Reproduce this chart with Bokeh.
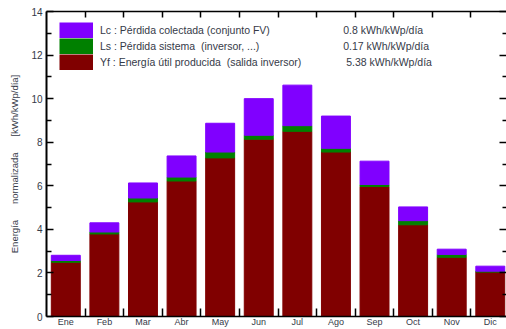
from bokeh.plotting import figure
from bokeh.models import (LinearAxis, FixedTicker, Legend, LegendItem, Label,
                          Range1d, ColumnDataSource, CustomLabelingPolicy)
from bokeh.embed import file_html
from bokeh.resources import INLINE

months = ["Ene", "Feb", "Mar", "Abr", "May", "Jun", "Jul", "Ago", "Sep", "Oct", "Nov", "Dic"]
yf = [2.49, 3.79, 5.26, 6.22, 7.28, 8.14, 8.50, 7.55, 5.97, 4.21, 2.72, 2.04]
ls = [0.08, 0.09, 0.18, 0.18, 0.27, 0.18, 0.26, 0.17, 0.09, 0.19, 0.13, 0.04]
lc = [0.24, 0.42, 0.69, 0.97, 1.32, 1.68, 1.86, 1.48, 1.07, 0.63, 0.24, 0.23]
NB = "\u00a0"
legend_labels = ["Lc : Pérdida colectada (conjunto FV)",
                 "Ls : Pérdida sistema" + NB * 2 + "(inversor, ...)",
                 "Yf : Energía útil producida" + NB * 2 + "(salida inversor)"]
legend_values = ["0.8 kWh/kWp/día", "0.17 kWh/kWp/día", NB + "5.38 kWh/kWp/día"]
colors = ["#8000ff", "#008000", "#800000"]  # Lc, Ls, Yf
y_ticks = [0, 2, 4, 6, 8, 10, 12, 14]
y_minor = [1, 3, 5, 7, 9, 11, 13]

FONT = "Liberation Sans"
TXT = "#353a48"

no_labels = CustomLabelingPolicy(code="""
try { const n = indices.size; for (let i = 0; i < n; i++) { indices.unset(i); } } catch (e) {}
return indices;
""")

p = figure(width=500, height=329, x_range=Range1d(0.5, 12.42), y_range=Range1d(0, 14),
           output_backend="svg", toolbar_location=None, margin=(0, 0, 0, 6),
           min_border_left=0, min_border_right=0, min_border_top=11, min_border_bottom=0)
p.xgrid.visible = False
p.ygrid.visible = False
p.outline_line_color = None

x = list(range(1, len(months) + 1))
src = ColumnDataSource(dict(x=x, yf=yf, ls=ls, lc=lc))
rs = p.vbar_stack(["yf", "ls", "lc"], x="x", width=0.75,
                  color=colors[::-1], source=src)

# bottom axis: labels at month centers, ticks (minor) at boundaries
bx = p.xaxis[0]
bx.ticker = FixedTicker(ticks=x, minor_ticks=[i + 0.5 for i in x[:-1]])
bx.major_label_overrides = {i: m for i, m in zip(x, months)}
bx.major_tick_in = 0
bx.major_tick_out = 0
bx.minor_tick_in = 8
bx.minor_tick_out = 0
bx.minor_tick_line_width = 1.5
bx.axis_line_width = 1.5
bx.major_label_standoff = 0
bx.major_label_text_font = FONT
bx.major_label_text_font_size = "9px"
bx.major_label_text_color = TXT

ly = p.yaxis[0]
ly.ticker = FixedTicker(ticks=y_ticks, minor_ticks=y_minor)
ly.major_tick_in = 7
ly.major_tick_out = 0
ly.minor_tick_in = 5
ly.minor_tick_out = 0
ly.major_tick_line_width = 1.5
ly.minor_tick_line_width = 1.5
ly.axis_line_width = 2
ly.major_label_standoff = 4
ly.major_label_text_font = FONT
ly.major_label_text_font_size = "10px"
ly.major_label_text_color = TXT
gap = NB * 6
ly.axis_label = "Energía" + gap + "normalizada" + gap + "[kWh/kWp/día]"
ly.axis_label_text_font = FONT
ly.axis_label_text_font_size = "9.5px"
ly.axis_label_text_font_style = "normal"
ly.axis_label_text_color = TXT
ly.axis_label_standoff = 8

top = LinearAxis(ticker=FixedTicker(ticks=[i + 0.5 for i in x[:-1]]),
                 major_tick_in=6, major_tick_out=0, major_tick_line_width=1.5,
                 axis_line_width=1.5, major_label_text_font_size="0px",
                 major_label_standoff=0, major_label_policy=no_labels)
p.add_layout(top, "above")

right = LinearAxis(ticker=FixedTicker(ticks=y_ticks, minor_ticks=y_minor),
                   axis_line_color=None, major_tick_in=7, major_tick_out=0,
                   minor_tick_in=4, minor_tick_out=0, major_tick_line_width=1.5,
                   minor_tick_line_width=1.5, major_label_text_font_size="0px",
                   major_label_standoff=0, major_label_policy=no_labels)
p.add_layout(right, "right")

# legend swatches: thick butt-capped lines (no visible data) so the colour blocks touch
nan = float("nan")
swatches = [p.line(x=[nan, nan], y=[nan, nan], line_width=16, line_color=c, line_cap="butt")
            for c in colors]
items = [LegendItem(label=lab, renderers=[r]) for lab, r in zip(legend_labels, swatches)]
legend = Legend(items=items, location=(13, 246), glyph_width=34, glyph_height=16,
                label_height=16, spacing=0, padding=0, margin=0, label_standoff=7,
                border_line_color=None, background_fill_alpha=0,
                label_text_font=FONT, label_text_font_size="10.5px", label_text_color=TXT)
p.add_layout(legend)

for val, yv in zip(legend_values, [13.17, 12.43, 11.70]):
    p.add_layout(Label(x=8.19, y=yv, text=val, text_font=FONT, text_font_size="10.5px",
                       text_color=TXT, text_baseline="middle"))

open("out.html", "w").write(file_html(p, INLINE))
